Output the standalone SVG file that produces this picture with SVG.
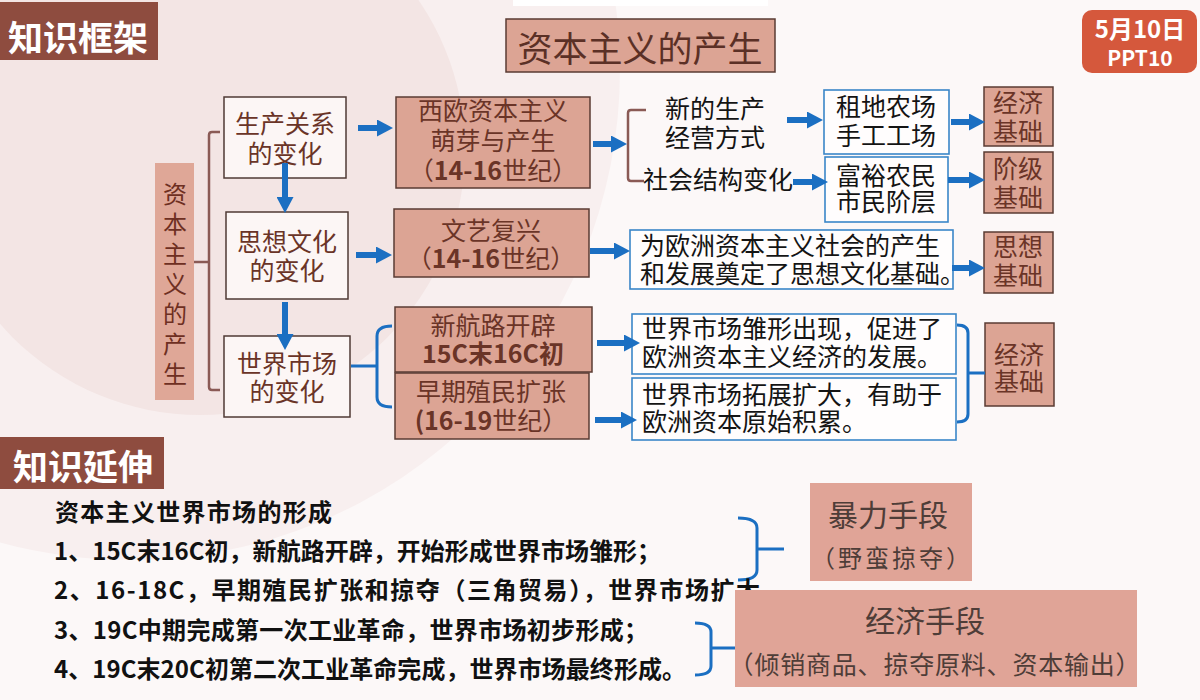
<svg xmlns="http://www.w3.org/2000/svg" width="1200" height="700" viewBox="0 0 1200 700">
<defs>
<style>
.cjk{font-family:"Noto Sans CJK SC","Noto Sans",sans-serif}
.sal{fill:#dca494;stroke:#5a3b33;stroke-width:1.5}
.wbox{fill:#fcf6f5;stroke:#4f3a34;stroke-width:1.5}
.bbox{fill:#fffdfd;stroke:#3a86c8;stroke-width:1.6}
.hdr{fill:#8e4c3f}
.tb{fill:#6a3427;font-size:25px;text-anchor:middle}
.tk{fill:#141414;font-size:25px}
.tkm{fill:#141414;font-size:25px;text-anchor:middle}
.arr{stroke:#1b6fc2;stroke-width:6;fill:none}
.brb{stroke:#8a5a55;stroke-width:2.5;fill:none}
.brl{stroke:#1b6fc2;stroke-width:3;fill:none}
.bt{fill:#111;font-size:24px;font-weight:bold}
.dig{font-weight:bold}
.mt{fill:#4e3d38;text-anchor:middle}
</style>
<marker id="ah" viewBox="0 0 16 17" refX="0" refY="8.5" markerWidth="16" markerHeight="17" markerUnits="userSpaceOnUse" orient="auto">
<path d="M0,0 L16,8.5 L0,17 z" fill="#1b6fc2"/>
</marker>
</defs>

<g id="background">
<rect x="0" y="0" width="1200" height="700" fill="#fcf8f8"/>
<circle cx="130" cy="70" r="490" fill="#f8efef"/>
<circle cx="200" cy="150" r="265" fill="#f3e5e4"/>
<rect x="513" y="0" width="255" height="6" fill="#ffffff"/>
</g>

<g id="header-framework">
<rect class="hdr" x="0" y="2" width="158" height="58"/>
<text class="cjk" x="8" y="51" font-size="35" fill="#ffffff" font-weight="bold">知识框架</text>
</g>

<g id="title">
<rect class="sal" x="506" y="19" width="269" height="53"/>
<text class="cjk" x="640" y="62" font-size="35" fill="#5b3026" text-anchor="middle">资本主义的产生</text>
</g>

<g id="date-badge">
<rect x="1082" y="10" width="115" height="63" rx="10" fill="#d5583c"/>
<text class="cjk" x="1140" y="38" font-size="24" fill="#ffffff" font-weight="bold" text-anchor="middle">5月10日</text>
<text class="cjk" x="1140" y="66" font-size="21" fill="#ffffff" font-weight="bold" text-anchor="middle">PPT10</text>
</g>

<g id="root-node">
<rect x="155" y="163" width="39" height="237" fill="#dfa797"/>
<text class="cjk" font-size="24" fill="#6e2f22" text-anchor="middle">
<tspan x="175" y="203">资</tspan><tspan x="175" y="233">本</tspan><tspan x="175" y="263">主</tspan><tspan x="175" y="293">义</tspan><tspan x="175" y="323">的</tspan><tspan x="175" y="353">产</tspan><tspan x="175" y="383">生</tspan>
</text>
</g>

<g id="node-production">
<rect class="wbox" x="224" y="97" width="122" height="81"/>
<text class="cjk tb" x="285" y="133">生产关系</text>
<text class="cjk tb" x="285" y="163">的变化</text>
</g>
<g id="node-culture">
<rect class="wbox" x="226" y="212" width="122" height="87"/>
<text class="cjk tb" x="287" y="251">思想文化</text>
<text class="cjk tb" x="287" y="280">的变化</text>
</g>
<g id="node-market">
<rect class="wbox" x="224" y="336" width="126" height="81"/>
<text class="cjk tb" x="287" y="373">世界市场</text>
<text class="cjk tb" x="287" y="401">的变化</text>
</g>

<g id="node-sprout">
<rect class="sal" x="396" y="97" width="194" height="91"/>
<text class="cjk tb" x="493" y="120">西欧资本主义</text>
<text class="cjk tb" x="493" y="150">萌芽与产生</text>
<text class="cjk tb" x="493" y="180">（<tspan class="dig">14-16</tspan>世纪）</text>
</g>
<g id="node-renaissance">
<rect class="sal" x="394" y="209" width="195" height="68"/>
<text class="cjk tb" x="491" y="240">文艺复兴</text>
<text class="cjk tb" x="491" y="268">（<tspan class="dig">14-16</tspan>世纪）</text>
</g>
<g id="node-routes">
<rect class="sal" x="395" y="307" width="197" height="65"/>
<text class="cjk tb" x="493" y="335">新航路开辟</text>
<text class="cjk tb dig" x="493" y="363">15C末16C初</text>
</g>
<g id="node-colonial">
<rect class="sal" x="395" y="373" width="194" height="66"/>
<text class="cjk tb" x="491" y="401">早期殖民扩张</text>
<text class="cjk tb" x="491" y="430"><tspan class="dig">(16-19</tspan>世纪）</text>
</g>

<g id="node-newmode">
<text class="cjk tkm" x="715" y="118" font-size="24">新的生产</text>
<text class="cjk tkm" x="715" y="147" font-size="24">经营方式</text>
</g>
<g id="node-social">
<text class="cjk tk" x="643" y="189" font-size="24">社会结构变化</text>
</g>

<g id="node-farm">
<rect class="bbox" x="824" y="90" width="125" height="64"/>
<text class="cjk tkm" x="886" y="116">租地农场</text>
<text class="cjk tkm" x="886" y="145">手工工场</text>
</g>
<g id="node-peasant">
<rect class="bbox" x="825" y="157" width="123" height="65"/>
<text class="cjk tkm" x="886" y="185">富裕农民</text>
<text class="cjk tkm" x="886" y="211">市民阶层</text>
</g>
<g id="node-econ1">
<rect class="sal" x="984" y="87" width="69" height="59"/>
<text class="cjk tb" x="1018" y="112">经济</text>
<text class="cjk tb" x="1018" y="141">基础</text>
</g>
<g id="node-class">
<rect class="sal" x="984" y="152" width="69" height="61"/>
<text class="cjk tb" x="1018" y="178">阶级</text>
<text class="cjk tb" x="1018" y="207">基础</text>
</g>
<g id="node-idea-text">
<rect class="bbox" x="630" y="230" width="323" height="59"/>
<text class="cjk tk" x="640" y="255">为欧洲资本主义社会的产生</text>
<text class="cjk tk" x="640" y="283">和发展奠定了思想文化基础。</text>
</g>
<g id="node-idea">
<rect class="sal" x="984" y="232" width="69" height="61"/>
<text class="cjk tb" x="1018" y="256">思想</text>
<text class="cjk tb" x="1018" y="285">基础</text>
</g>
<g id="node-embryo">
<rect class="bbox" x="632" y="314" width="324" height="60"/>
<text class="cjk tk" x="642" y="338">世界市场雏形出现，促进了</text>
<text class="cjk tk" x="642" y="366">欧洲资本主义经济的发展。</text>
</g>
<g id="node-expand">
<rect class="bbox" x="632" y="378" width="324" height="62"/>
<text class="cjk tk" x="642" y="404">世界市场拓展扩大，有助于</text>
<text class="cjk tk" x="642" y="431">欧洲资本原始积累。</text>
</g>
<g id="node-econ2">
<rect class="sal" x="985" y="323" width="69" height="83"/>
<text class="cjk tb" x="1019" y="364">经济</text>
<text class="cjk tb" x="1019" y="391">基础</text>
</g>

<g id="connectors">
<path class="brb" d="M220,132 L212,132 Q209,132 209,135 L209,387 Q209,390 212,390 L220,390 M194,262 L209,262"/>
<path class="brb" d="M646,110 L631,110 Q628,110 628,113 L628,178 Q628,181 631,181 L644,181"/>
<path class="brl" d="M392,326 Q377,326 377,336 L377,397 Q377,407 392,407 M351,366 L377,366"/>
<path class="brl" d="M957,325 Q968,325 968,333 L968,414 Q968,422 957,422 M968,373 L985,373"/>
<path class="brl" d="M738,518 Q757,518 757,528 L757,570 Q757,580 738,580 M757,549 L784,549"/>
<path class="brl" d="M695,623 Q711,623 711,632 L711,666 Q711,675 695,675 M711,648 L735,648"/>
<line class="arr" x1="358" y1="128" x2="377" y2="128" marker-end="url(#ah)"/>
<line class="arr" x1="285" y1="163" x2="285" y2="197" marker-end="url(#ah)"/>
<line class="arr" x1="285" y1="302" x2="285" y2="334" marker-end="url(#ah)"/>
<line class="arr" x1="356" y1="255" x2="376" y2="255" marker-end="url(#ah)"/>
<line class="arr" x1="593" y1="144" x2="611" y2="144" marker-end="url(#ah)"/>
<line class="arr" x1="787" y1="120" x2="807" y2="120" marker-end="url(#ah)"/>
<line class="arr" x1="793" y1="182" x2="812" y2="182" marker-end="url(#ah)"/>
<line class="arr" x1="951" y1="122" x2="969" y2="122" marker-end="url(#ah)"/>
<line class="arr" x1="948" y1="180" x2="969" y2="180" marker-end="url(#ah)"/>
<line class="arr" x1="590" y1="251" x2="614" y2="251" marker-end="url(#ah)"/>
<line class="arr" x1="952" y1="268" x2="969" y2="268" marker-end="url(#ah)"/>
<line class="arr" x1="597" y1="343" x2="624" y2="343" marker-end="url(#ah)"/>
<line class="arr" x1="595" y1="420" x2="621" y2="420" marker-end="url(#ah)"/>
</g>

<g id="header-extension">
<rect class="hdr" x="0" y="437" width="164" height="52"/>
<text class="cjk" x="13" y="480" font-size="35" fill="#ffffff" font-weight="bold">知识延伸</text>
</g>

<g id="extension-text">
<text class="cjk bt" x="55" y="521" textLength="277" lengthAdjust="spacing">资本主义世界市场的形成</text>
<text class="cjk bt" x="54" y="560" textLength="607" lengthAdjust="spacing">1、15C末16C初，新航路开辟，开始形成世界市场雏形；</text>
<text class="cjk bt" x="54" y="599" textLength="706" lengthAdjust="spacing">2、16-18C，早期殖民扩张和掠夺（三角贸易），世界市场扩大</text>
<text class="cjk bt" x="54" y="639" textLength="594" lengthAdjust="spacing">3、19C中期完成第一次工业革命，世界市场初步形成；</text>
<text class="cjk bt" x="54" y="678" textLength="632" lengthAdjust="spacing">4、19C末20C初第二次工业革命完成，世界市场最终形成。</text>
</g>

<g id="node-violence">
<rect x="810" y="483" width="162" height="98" fill="#e0a497"/>
<text class="cjk mt" x="888" y="526" font-size="30">暴力手段</text>
<text class="cjk mt" x="892" y="567" font-size="24" letter-spacing="3">（野蛮掠夺）</text>
</g>
<g id="node-economic">
<rect x="735" y="590" width="402" height="97" fill="#e0a497"/>
<text class="cjk mt" x="925" y="632" font-size="30">经济手段</text>
<text class="cjk mt" x="935" y="674" font-size="25" letter-spacing="0.8">（倾销商品、掠夺原料、资本输出）</text>
</g>
</svg>
